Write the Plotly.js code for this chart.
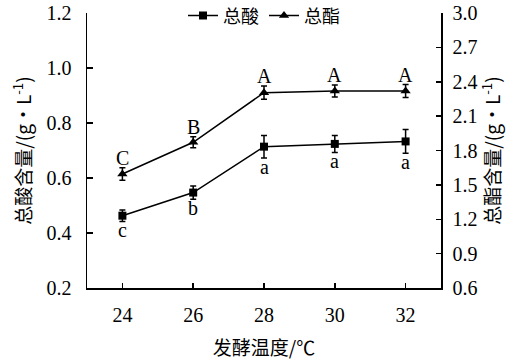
<!DOCTYPE html>
<html>
<head>
<meta charset="utf-8">
<script src="https://cdn.plot.ly/plotly-3.0.1.min.js"></script>
<style>html,body{margin:0;padding:0;background:#fff;}#chart{width:514px;height:362px;}</style>
</head>
<body>
<div id="chart"></div>
<script>
const temps = [24, 26, 28, 30, 32];
const acid = [0.463, 0.547, 0.714, 0.724, 0.733];
const acidErr = [0.021, 0.024, 0.041, 0.031, 0.043];
const ester = [1.595, 1.872, 2.305, 2.319, 2.319];
const esterErr = [0.055, 0.048, 0.058, 0.052, 0.057];
const acidLetters = ['c', 'b', 'a', 'a', 'a'];
const esterLetters = ['C', 'B', 'A', 'A', 'A'];
const leftTicks = [0.2, 0.4, 0.6, 0.8, 1.0, 1.2];
const rightTicks = [0.6, 0.9, 1.2, 1.5, 1.8, 2.1, 2.4, 2.7, 3.0];

const FONT = 'Liberation Serif, Noto Sans CJK SC, serif';
const CJK = 'Noto Sans CJK SC, Liberation Serif, serif';

const traces = [
  {
    x: temps, y: acid, name: '总酸', type: 'scatter', mode: 'lines+markers',
    line: {color: '#000', width: 1.5},
    marker: {symbol: 'square', size: 8, color: '#000'},
    error_y: {type: 'data', array: acidErr, visible: true, color: '#000', thickness: 1.5, width: 3},
    yaxis: 'y'
  },
  {
    x: temps, y: ester, name: '总酯', type: 'scatter', mode: 'lines+markers',
    line: {color: '#000', width: 1.5},
    marker: {symbol: 'triangle-up', size: 9, color: '#000'},
    error_y: {type: 'data', array: esterErr, visible: true, color: '#000', thickness: 1.5, width: 3},
    yaxis: 'y2'
  }
];

const annotations = [];
temps.forEach((t, i) => {
  annotations.push({
    x: t, y: ester[i] + esterErr[i], xref: 'x', yref: 'y2', text: esterLetters[i],
    showarrow: false, yanchor: 'bottom', yshift: -3,
    font: {family: FONT, size: 20, color: '#000'}
  });
  annotations.push({
    x: t, y: acid[i] - acidErr[i], xref: 'x', yref: 'y', text: acidLetters[i],
    showarrow: false, yanchor: 'top', yshift: 4,
    font: {family: FONT, size: 20, color: '#000'}
  });
});

const layout = {
  width: 514, height: 362,
  margin: {l: 87, r: 73, t: 13, b: 74, autoexpand: false},
  paper_bgcolor: '#fff', plot_bgcolor: '#fff',
  font: {family: FONT, size: 19, color: '#000'},
  showlegend: true,
  legend: {
    orientation: 'h', x: 0.5, xanchor: 'center', y: 1.057, yanchor: 'top',
    font: {family: CJK, size: 18, color: '#000'},
    bgcolor: 'rgba(0,0,0,0)', itemwidth: 30, tracegroupgap: 0
  },
  xaxis: {
    range: [23, 33], tickvals: temps, ticktext: temps.map(String),
    showline: true, linecolor: '#000', linewidth: 1.5,
    ticks: 'inside', ticklen: 5, tickwidth: 1.5, tickcolor: '#000',
    showgrid: false, zeroline: false, ticklabelstandoff: 8,
    tickfont: {family: FONT, size: 20},
    title: {text: '发酵温度/℃', font: {family: CJK, size: 19, color: '#000'}, standoff: 17}
  },
  yaxis: {
    range: [0.2, 1.2], tickvals: leftTicks, ticktext: leftTicks.map(v => v.toFixed(1)),
    showline: true, linecolor: '#000', linewidth: 1.5,
    ticks: 'inside', ticklen: 6, tickwidth: 1.5, tickcolor: '#000',
    showgrid: false, zeroline: false, ticklabelstandoff: 10,
    tickfont: {family: FONT, size: 20},
    title: {text: '总酸含量/(g•L<sup>-1</sup>)', font: {family: CJK, size: 19, color: '#000'}, standoff: 10}
  },
  yaxis2: {
    range: [0.6, 3.0], tickvals: rightTicks, ticktext: rightTicks.map(v => v.toFixed(1)),
    overlaying: 'y', side: 'right',
    showline: true, linecolor: '#000', linewidth: 1.5,
    ticks: 'inside', ticklen: 5, tickwidth: 1.5, tickcolor: '#000',
    showgrid: false, zeroline: false, ticklabelstandoff: 6,
    tickfont: {family: FONT, size: 20},
    title: {text: '总酯含量/(g•L<sup>-1</sup>)', font: {family: CJK, size: 19, color: '#000'}, standoff: 10}
  },
  annotations: annotations
};

Plotly.newPlot('chart', traces, layout, {displayModeBar: false, staticPlot: true});
</script>
</body>
</html>
